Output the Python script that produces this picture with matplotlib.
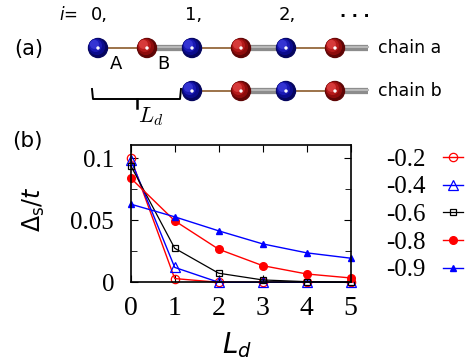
import matplotlib
matplotlib.use("Agg")
import matplotlib.pyplot as plt
from matplotlib.patches import Circle

# data for panel (b)
Ld = [0, 1, 2, 3, 4, 5]
labels = ['-0.2', '-0.4', '-0.6', '-0.8', '-0.9']
d_02 = [0.100, 0.003, 0.0, 0.0, 0.0, 0.0]
d_04 = [0.0987, 0.012, 0.0, 0.0, 0.0, 0.0]
d_06 = [0.094, 0.0274, 0.0073, 0.0019, 0.0005, 0.0]
d_08 = [0.0839, 0.0495, 0.0266, 0.0134, 0.0067, 0.0035]
d_09 = [0.0629, 0.0527, 0.0414, 0.0309, 0.0237, 0.0194]

# schematic (a): sites of the two chains
chain_a_sites = ['A', 'B', 'A', 'B', 'A', 'B']
chain_b_sites = ['A', 'B', 'A', 'B']
cell_labels = ['0,', '1,', '2,']

W, H = 468, 362
fig = plt.figure(figsize=(W / 100, H / 100), dpi=100)

# ---------- panel (a), drawn in pixel coordinates ----------
ax0 = fig.add_axes([0, 0, 1, 1])
ax0.set_xlim(0, W)
ax0.set_ylim(H, 0)
ax0.axis('off')

x0, dx_in, dx_out = 98, 49, 45
def site_x(k):
    return x0 + (k // 2) * (dx_in + dx_out) + (k % 2) * dx_in

def sphere(x, y, kind):
    if kind == 'A':
        shades = ['#05055e', '#0b0b8c', '#1a1ab4', '#3434d2']
    else:
        shades = ['#5e0505', '#8e0c0c', '#b41a1a', '#d63a3a']
    r = 9.5
    for j, c in enumerate(shades):
        rr = r * (1 - 0.2 * j)
        ax0.add_patch(Circle((x - 1.2 * j, y - 1.2 * j), rr, color=c, zorder=5 + j))
    ax0.add_patch(Circle((x, y), 1.0, color='white', zorder=10))

def chain(y, sites, offset):
    xs = [site_x(k + offset) for k in range(len(sites))]
    for k in range(len(xs)):
        x_end = xs[k + 1] if k + 1 < len(xs) else 368
        if sites[k] == 'A':
            ax0.plot([xs[k], x_end], [y, y], color='#8b5a2b', lw=1.2, zorder=2)
        else:
            ax0.plot([xs[k], x_end], [y, y], color='#8c8c8c', lw=4.5, zorder=2,
                     solid_capstyle='butt')
            ax0.plot([xs[k], x_end], [y - 0.8, y - 0.8], color='#b8b8b8', lw=1.5, zorder=3)
    for x, s in zip(xs, sites):
        sphere(x, y, s)

ya, yb = 48, 91
chain(ya, chain_a_sites, 0)
chain(yb, chain_b_sites, 2)

sans = 'DejaVu Sans'
ax0.text(14, ya + 1, '(a)', fontsize=15, family=sans, va='center', ha='left')
ax0.text(378, ya, 'chain a', fontsize=12.5, family=sans, va='center', ha='left')
ax0.text(378, yb, 'chain b', fontsize=12.5, family=sans, va='center', ha='left')
ax0.text(59, 15, '$i$=', fontsize=12, va='center', ha='left')
for n, lab in enumerate(cell_labels):
    ax0.text(site_x(2 * n) - 7, 15, lab, fontsize=13, family=sans, va='center', ha='left')
ax0.text(340, 17, '. . .', fontsize=11.5, family=sans, va='baseline', ha='left',
         fontweight='bold')
ax0.text(116, 64, 'A', fontsize=13, family=sans, va='center', ha='center')
ax0.text(163, 64, 'B', fontsize=13, family=sans, va='center', ha='center')
# bracket for L_d
ax0.plot([92, 93, 180, 181], [89, 99, 99, 89], color='black', lw=1.4)
ax0.plot([137, 137], [99, 108], color='black', lw=1.8)
ax0.text(138, 117, r'$L_d$', fontsize=16, va='center', ha='left',
         math_fontfamily='cm')
ax0.text(12, 141, '(b)', fontsize=15.5, family=sans, va='center', ha='left')

# ---------- panel (b) ----------
ax = fig.add_axes([130.7 / W, 1 - 282.3 / H, 220 / W, 137.3 / H])
ax.plot(Ld, d_02, color='red', marker='o', mfc='none', ms=6, mew=0.9, lw=1, label=labels[0])
ax.plot(Ld, d_04, color='blue', marker='^', mfc='none', ms=7.5, mew=0.9, lw=1, label=labels[1])
ax.plot(Ld, d_06, color='black', marker='s', mfc='none', ms=4.5, mew=0.9, lw=0.9, label=labels[2])
ax.plot(Ld, d_08, color='red', marker='o', ms=5.5, lw=1, label=labels[3])
ax.plot(Ld, d_09, color='blue', marker='^', ms=4.5, lw=1, label=labels[4])
for line in ax.get_lines():
    line.set_clip_on(False)

ax.set_xlim(0, 5)
ax.set_ylim(0, 0.1105)
ax.set_xticks(Ld)
ax.set_yticks([0, 0.05, 0.1])
ax.set_yticks([0.025, 0.075], minor=True)
ax.set_yticklabels(['0', '0.05', '0.1'])
ax.tick_params(which='both', direction='in', top=True, right=True)
ax.tick_params(axis='x', labelsize=20, pad=10)
ax.tick_params(axis='y', labelsize=18, pad=12)
ax.tick_params(which='major', length=5)
ax.tick_params(which='minor', length=4)
for lab in ax.get_xticklabels() + ax.get_yticklabels():
    lab.set_family('Liberation Serif')
for sp in ax.spines.values():
    sp.set_linewidth(1.2)

ax.set_ylabel(r'$\Delta_\mathsf{s}/t$', fontsize=17, va='center')
ax.yaxis.set_label_coords(-0.44, 0.53)
ax.set_xlabel(r'$L_d$', fontsize=20, va='center', math_fontfamily='dejavusans')
ax.xaxis.set_label_coords(0.483, -0.46)

leg = fig.legend(*ax.get_legend_handles_labels(), loc='upper left',
                 bbox_to_anchor=(386 / W, 1 - 148 / H), frameon=False,
                 markerfirst=False, handlelength=0.8, labelspacing=0.21,
                 handletextpad=0.7, borderaxespad=0, borderpad=0,
                 prop={'family': 'Liberation Serif', 'size': 18})

fig.savefig('out.png', dpi=100)
